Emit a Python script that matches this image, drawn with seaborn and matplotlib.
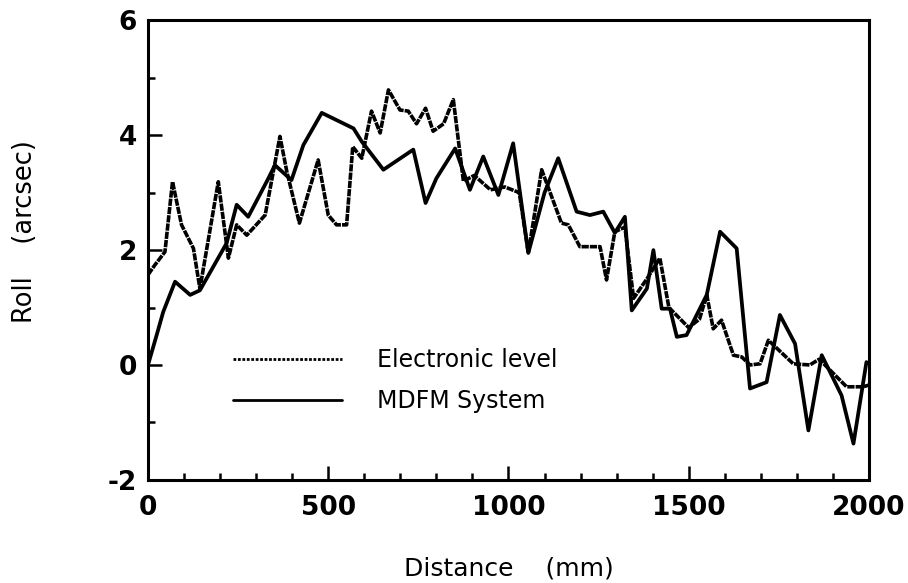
import numpy as np
import pandas as pd
import matplotlib
matplotlib.use("Agg")
import matplotlib.pyplot as plt
import seaborn as sns
from matplotlib.ticker import MultipleLocator

# Values (distance in mm, roll in arcsec)
elec_x = [0, 19, 47, 68, 93, 126, 144, 195, 223, 246, 274, 325, 366, 385, 420,
          472, 500, 523, 551, 568, 593, 620, 644, 667, 699, 722, 745, 770, 791,
          820, 847, 875, 905, 950, 990, 1030, 1055, 1092, 1147, 1166, 1198,
          1254, 1272, 1295, 1323, 1347, 1384, 1420, 1445, 1500, 1530, 1550,
          1568, 1591, 1624, 1647, 1670, 1698, 1721, 1790, 1836, 1862, 1938,
          1984, 2000]
elec_y = [1.57, 1.74, 1.97, 3.19, 2.44, 2.03, 1.33, 3.19, 1.86, 2.44, 2.26,
          2.61, 3.98, 3.37, 2.47, 3.57, 2.61, 2.44, 2.44, 3.80, 3.60, 4.42,
          4.04, 4.79, 4.44, 4.42, 4.20, 4.47, 4.07, 4.20, 4.62, 3.20, 3.30,
          3.05, 3.10, 3.00, 1.95, 3.40, 2.47, 2.44, 2.06, 2.06, 1.48, 2.32,
          2.40, 1.16, 1.50, 1.86, 1.00, 0.65, 0.80, 1.22, 0.63, 0.78, 0.17,
          0.14, 0.00, 0.02, 0.43, 0.02, 0.00, 0.10, -0.38, -0.38, -0.35]

mdfm_x = [0, 24, 42, 75, 117, 144, 218, 246, 278, 334, 352, 398, 431, 482,
          570, 593, 653, 736, 770, 800, 852, 893, 930, 972, 1013, 1055, 1100,
          1138, 1189, 1226, 1263, 1295, 1323, 1342, 1384, 1402, 1425, 1448,
          1467, 1494, 1550, 1587, 1633, 1670, 1716, 1753, 1795, 1832, 1869,
          1924, 1957, 1993]
mdfm_y = [0.00, 0.52, 0.92, 1.45, 1.22, 1.30, 2.12, 2.79, 2.58, 3.25, 3.48,
          3.22, 3.83, 4.39, 4.12, 3.89, 3.40, 3.75, 2.82, 3.25, 3.77, 3.05,
          3.63, 2.96, 3.86, 1.95, 3.00, 3.60, 2.67, 2.61, 2.67, 2.30, 2.58,
          0.95, 1.33, 2.00, 0.98, 0.98, 0.49, 0.52, 1.22, 2.32, 2.03, -0.41,
          -0.30, 0.87, 0.37, -1.14, 0.17, -0.53, -1.37, 0.05]

elec = pd.DataFrame({"distance": elec_x, "roll": elec_y})
mdfm = pd.DataFrame({"distance": mdfm_x, "roll": mdfm_y})

sns.set_style("ticks")
plt.rcParams["font.family"] = ["DejaVu Sans"]
plt.rcParams["axes.unicode_minus"] = False
plt.rcParams["text.color"] = "black"
plt.rcParams["axes.labelcolor"] = "black"
plt.rcParams["xtick.color"] = "black"
plt.rcParams["ytick.color"] = "black"

fig = plt.figure(figsize=(9.08, 5.83), dpi=100)
ax = fig.add_axes([0.163, 0.177, 0.794, 0.788])

sns.lineplot(data=elec, x="distance", y="roll", ax=ax, color="black",
             linewidth=2.6, linestyle=(0, (2, 0.3)), estimator=None,
             sort=False, label="Electronic level")
sns.lineplot(data=mdfm, x="distance", y="roll", ax=ax, color="black",
             linewidth=2.7, estimator=None, sort=False, label="MDFM System")

ax.set_xlim(0, 2000)
ax.set_ylim(-2, 6)
ax.xaxis.set_major_locator(MultipleLocator(500))
ax.xaxis.set_minor_locator(MultipleLocator(100))
ax.yaxis.set_major_locator(MultipleLocator(2))
ax.yaxis.set_minor_locator(MultipleLocator(1))
ax.tick_params(which="both", direction="in", width=1.8, color="black",
               labelcolor="black", top=False, right=False)
ax.tick_params(which="major", length=10, labelsize=19)
ax.tick_params(axis="x", which="major", pad=11)
ax.tick_params(axis="y", which="major", pad=8)
ax.tick_params(which="minor", length=5)
for lab in ax.get_xticklabels() + ax.get_yticklabels():
    lab.set_fontweight("bold")
for sp in ax.spines.values():
    sp.set_linewidth(2.2)
    sp.set_color("black")

ax.set_xlabel("Distance    (mm)", fontsize=18, color="black")
ax.set_ylabel("Roll    (arcsec)", fontsize=18.5, color="black")
ax.xaxis.set_label_coords(0.5, -0.166)
ax.yaxis.set_label_coords(-0.153, 0.54)

leg = ax.legend(loc="upper left", bbox_to_anchor=(0.118, 0.287), frameon=False,
                fontsize=17, handlelength=4.6, handletextpad=1.48,
                labelspacing=0.74, borderpad=0, borderaxespad=0)
for line in leg.get_lines():
    line.set_linewidth(2.0)
leg.get_lines()[0].set_linestyle((0, (1, 0.6)))
for t in leg.get_texts():
    t.set_color("black")

fig.savefig("out.png", dpi=100)
